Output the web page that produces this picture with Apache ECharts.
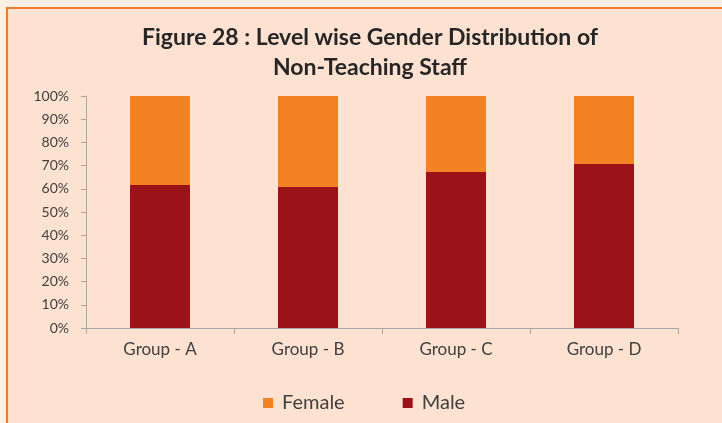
<!DOCTYPE html>
<html>
<head>
<meta charset="utf-8">
<script src="https://cdn.jsdelivr.net/npm/echarts@6/dist/echarts.min.js"></script>
<style>
  html, body { margin: 0; padding: 0; background: #fdefe4; }
  #chart { width: 722px; height: 423px; }
</style>
</head>
<body>
<div id="chart"></div>
<script>
// data
const categories = ["Group - A", "Group - B", "Group - C", "Group - D"];
const maleShare = [61.6, 60.8, 67.2, 70.7];
const femaleShare = [38.4, 39.2, 32.8, 29.3];
const yTicks = [0, 10, 20, 30, 40, 50, 60, 70, 80, 90, 100];

const chart = echarts.init(document.getElementById("chart"));

const option = {
  animation: false,
  textStyle: { fontFamily: "Lato, 'Open Sans', sans-serif" },
  graphic: [
    {
      type: "rect",
      silent: true,
      z: -10,
      shape: { x: 7, y: 8, width: 730, height: 430 },
      style: { fill: "#fde2d1", stroke: "#ef7a2c", lineWidth: 2 }
    }
  ],
  title: {
    text: "Figure 28 : Level wise Gender Distribution of\nNon-Teaching Staff",
    left: 365,
    top: 18,
    textAlign: "center",
    textStyle: {
      fontSize: 23,
      fontWeight: "bold",
      color: "#262626",
      lineHeight: 30,
      fontFamily: "Lato, 'Open Sans', sans-serif"
    }
  },
  legend: {
    data: ["Female", "Male"],
    left: 258,
    top: 388,
    itemWidth: 10,
    itemHeight: 10,
    itemGap: 58,
    icon: "rect",
    textStyle: { fontSize: 20, color: "#404040", padding: [0, 0, 0, 4] }
  },
  grid: {
    left: 86,
    right: 44,
    top: 96,
    bottom: 95,
    containLabel: false
  },
  xAxis: {
    type: "category",
    data: categories,
    axisLine: { lineStyle: { color: "#a6a6a6", width: 1 } },
    axisTick: { show: true, alignWithLabel: false, length: 6, lineStyle: { color: "#a6a6a6" } },
    axisLabel: { fontSize: 17, color: "#404040", margin: 13 }
  },
  yAxis: {
    type: "value",
    min: 0,
    max: 100,
    interval: 10,
    axisLine: { show: true, lineStyle: { color: "#a6a6a6", width: 1 } },
    axisTick: { show: true, length: 5, lineStyle: { color: "#a6a6a6" } },
    splitLine: { show: false },
    axisLabel: {
      fontSize: 14,
      color: "#404040",
      margin: 17,
      formatter: v => (yTicks.includes(v) ? v + "%" : "")
    }
  },
  series: [
    {
      name: "Male",
      type: "bar",
      stack: "total",
      data: maleShare,
      barWidth: 60,
      itemStyle: { color: "#9b1318" }
    },
    {
      name: "Female",
      type: "bar",
      stack: "total",
      data: femaleShare,
      barWidth: 60,
      itemStyle: { color: "#f28222" }
    }
  ]
};

chart.setOption(option);
</script>
</body>
</html>
